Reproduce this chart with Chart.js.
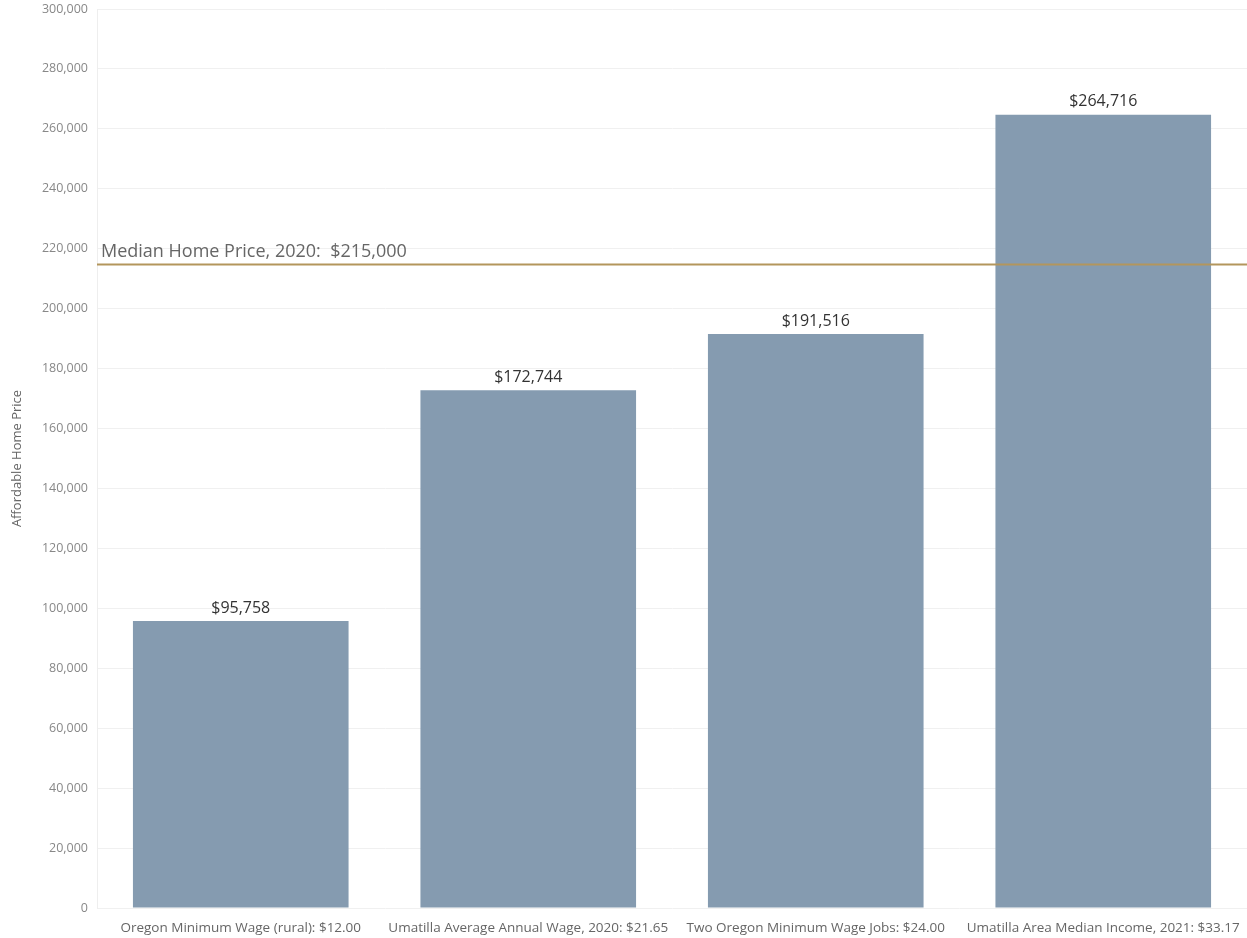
<!DOCTYPE html>
<html>
<head>
    <title>Affordable Home Price</title>
    <script src="https://cdn.jsdelivr.net/npm/chart.js"></script>
    <style>
        body { margin: 0; background: #fff; }
        #chartContainer { width: 1247px; height: 938px; }
    </style>
</head>
<body>
    <div id="chartContainer">
        <canvas id="myChart" width="1247" height="938"></canvas>
    </div>

    <script>
      const categories = [
          'Oregon Minimum Wage (rural): $12.00',
          'Umatilla Average Annual Wage, 2020: $21.65',
          'Two Oregon Minimum Wage Jobs: $24.00',
          'Umatilla Area Median Income, 2021: $33.17'
      ];
      const affordablePrice = [95758, 172744, 191516, 264716];
      const medianPrice = 215000;
      const medianLabel = 'Median Home Price, 2020:  $215,000';

      const fontFamily = '"Open Sans", "Noto Sans", sans-serif';

      // подписи значений над столбцами и линия медианной цены
      const overlayPlugin = {
          id: 'overlay',
          afterDatasetsDraw(chart) {
              const ctx = chart.ctx;
              const x = chart.scales.x;
              const y = chart.scales.y;
              const area = chart.chartArea;

              ctx.save();
              ctx.font = '16px ' + fontFamily;
              ctx.fillStyle = '#333';
              ctx.textAlign = 'center';
              ctx.textBaseline = 'bottom';
              affordablePrice.forEach((v, i) => {
                  ctx.fillText('$' + v.toLocaleString('en-US'), x.getPixelForValue(i), y.getPixelForValue(v) - 5);
              });

              const yLine = Math.round(y.getPixelForValue(medianPrice)) + 0.5;
              ctx.strokeStyle = '#b3965c';
              ctx.lineWidth = 2;
              ctx.beginPath();
              ctx.moveTo(area.left, yLine);
              ctx.lineTo(area.right, yLine);
              ctx.stroke();

              ctx.font = '18px ' + fontFamily;
              ctx.fillStyle = '#666';
              ctx.textAlign = 'left';
              ctx.textBaseline = 'bottom';
              ctx.fillText(medianLabel, area.left + 4, yLine - 4);
              ctx.restore();
          }
      };

      const config = {
          type: 'bar',
          data: {
              labels: categories,
              datasets: [{
                  data: affordablePrice,
                  backgroundColor: '#859bb0',
                  categoryPercentage: 0.75,
                  barPercentage: 1
              }]
          },
          options: {
              responsive: false,
              animation: false,
              layout: { padding: { top: 9, right: 0, left: 5, bottom: 0 } },
              plugins: {
                  legend: { display: false },
                  tooltip: { enabled: false }
              },
              scales: {
                  x: {
                      grid: { display: false },
                      border: { display: false },
                      ticks: {
                          color: '#666',
                          font: { family: fontFamily, size: 13.5 },
                          maxRotation: 0,
                          autoSkip: false,
                          padding: 4
                      },
                      afterFit(scale) { scale.height = 30; }
                  },
                  y: {
                      min: 0,
                      max: 300000,
                      ticks: {
                          stepSize: 20000,
                          color: '#888',
                          font: { family: fontFamily, size: 12.5 },
                          padding: 9,
                          callback: v => v.toLocaleString('en-US')
                      },
                      grid: { color: '#f0f0f0', drawTicks: false },
                      border: { color: '#eeeeee' },
                      title: {
                          display: true,
                          text: 'Affordable Home Price',
                          color: '#666',
                          font: { family: fontFamily, size: 13 },
                          padding: { top: 4, bottom: 0 }
                      },
                      afterFit(scale) {
                          scale.width = 92;
                          scale.paddingTop = 0;
                          scale.paddingBottom = 0;
                      }
                  }
              }
          },
          plugins: [overlayPlugin]
      };

      const myChart = new Chart(document.getElementById('myChart'), config);
  </script>
</body>
</html>
